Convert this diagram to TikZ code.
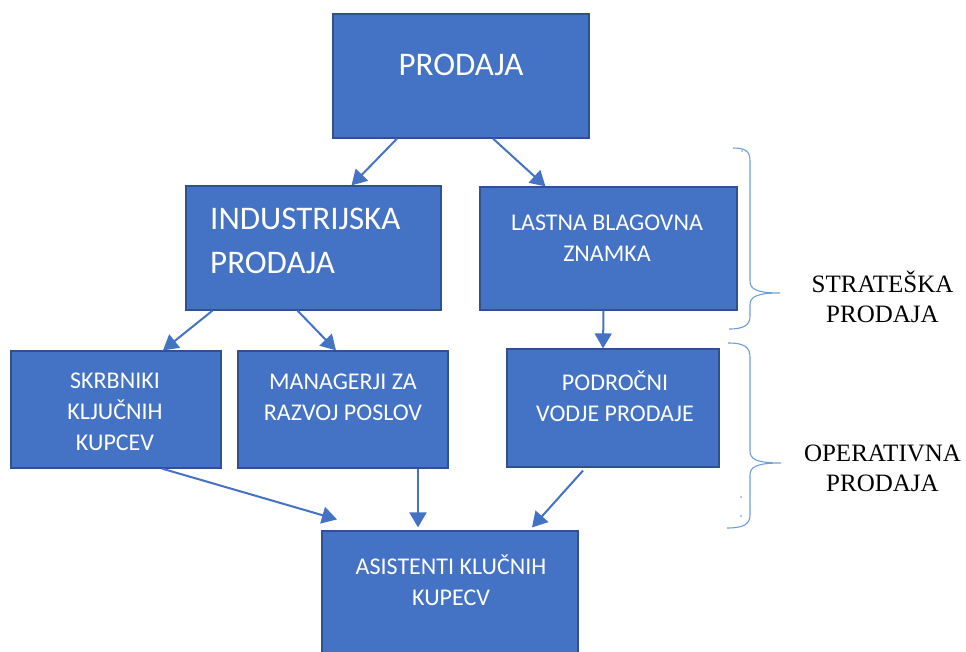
\documentclass[tikz,border=0pt]{standalone}
\usepackage{fontspec}
\setmainfont{Carlito}
\newfontfamily\serifface{Liberation Serif}
\usetikzlibrary{arrows.meta,calc}
\definecolor{boxfill}{HTML}{4472C4}
\definecolor{boxedge}{HTML}{2F528F}
\definecolor{bracecol}{HTML}{6A9FD8}

\begin{document}
\begin{tikzpicture}[x=1pt,y=-1pt,
  box/.style={draw=boxedge, line width=1.2pt, fill=boxfill, inner sep=0pt},
  bigtxt/.style={text=white, inner sep=0pt, font=\fontsize{33}{44}\selectfont, align=left},
  midtxt/.style={text=white, inner sep=0pt, font=\fontsize{33}{44}\selectfont, align=center},
  smalltxt/.style={text=white, inner sep=0pt, font=\fontsize{24}{31}\selectfont, align=center},
  sidetxt/.style={text=black, inner sep=0pt, font=\serifface\fontsize{25}{29.5}\selectfont, align=center},
  link/.style={draw=boxfill, line width=2pt, -{Triangle[length=15pt,width=17pt]}},
  bracket/.style={draw=bracecol, line width=1.1pt}]

\useasboundingbox (0,0) rectangle (966,652);
\clip (0,0) rectangle (966,652);

% boxes
\node[box, minimum width=256pt, minimum height=124pt] (prodaja) at (461,76) {};
\node[box, minimum width=255pt, minimum height=124pt] (indus) at (313.5,248) {};
\node[box, minimum width=257pt, minimum height=123pt] (lastna) at (608.5,248.5) {};
\node[box, minimum width=210pt, minimum height=117pt] (skrb) at (116,409.5) {};
\node[box, minimum width=210pt, minimum height=117pt] (mgr) at (343,409.5) {};
\node[box, minimum width=212pt, minimum height=118pt] (podr) at (613,408) {};
\node[box, minimum width=256pt, minimum height=140pt] (asist) at (450,601) {};

% box texts
\node[midtxt] (tprodaja) at (461,65) {PRODAJA};
\node[bigtxt, anchor=west] (tindus) at (210,241) {INDUSTRIJSKA\\PRODAJA};
\node[smalltxt] (tlastna) at (607,238.5) {LASTNA BLAGOVNA\\ZNAMKA};
\node[smalltxt] (tskrb) at (115,411.5) {SKRBNIKI\\KLJUČNIH\\KUPCEV};
\node[smalltxt] (tmgr) at (343,397) {MANAGERJI ZA\\RAZVOJ POSLOV};
\node[smalltxt] (tpodr) at (615,396) {PODROČNI\\VODJE PRODAJE};
\node[smalltxt] (tasist) at (451,580) {ASISTENTI KLUČNIH\\KUPECV};

% connectors
\draw[link] ([xshift=-64pt]prodaja.south) -- ([xshift=38pt]indus.north);
\draw[link] ([xshift=32pt]prodaja.south) -- ([xshift=-63pt]lastna.north);
\draw[link] ([xshift=-101pt]indus.south) -- ([xshift=47pt]skrb.north);
\draw[link] ([xshift=-16pt]indus.south) -- ([xshift=-7pt]mgr.north);
\draw[link] ([xshift=-5pt]lastna.south) -- ([xshift=-10pt]podr.north);
\draw[link] ([xshift=46pt]skrb.south) -- ([xshift=-113pt,yshift=11pt]asist.north);
\draw[link] ([xshift=75pt]mgr.south) -- ([xshift=-32pt,yshift=3pt]asist.north);
\draw[link] ([xshift=-30pt,yshift=-3pt]podr.south) -- ([xshift=82pt,yshift=3pt]asist.north);

% braces
\coordinate (b1tip) at (780,293);
\coordinate (b2tip) at (781,463);
\draw[bracket] (733,148) .. controls (745,148) and (750,151) .. (750,161)
  -- (750,281) .. controls (750,289) and (756,293) .. (b1tip)
  .. controls (756,293) and (750,297) .. (750,305)
  -- (750,316) .. controls (750,325) and (744,329) .. (729,329);
\draw[bracket] (728,343) .. controls (744,343) and (750,347) .. (750,357)
  -- (750,451) .. controls (750,459) and (756,463) .. (b2tip)
  .. controls (756,463) and (750,467) .. (750,475)
  -- (750,515) .. controls (750,524) and (744,528) .. (727,528);
\fill[bracecol!70!gray] (742,151) circle (0.9);
\fill[bracecol!70!gray] (741,497) circle (0.9);
\fill[bracecol!70!gray] (741,516) circle (0.9);

% side labels
\node[sidetxt] (strat) at (882.5,297) {STRATEŠKA\\PRODAJA};
\node[sidetxt] (oper) at (882.5,468.5) {OPERATIVNA\\PRODAJA};
\end{tikzpicture}
\end{document}
